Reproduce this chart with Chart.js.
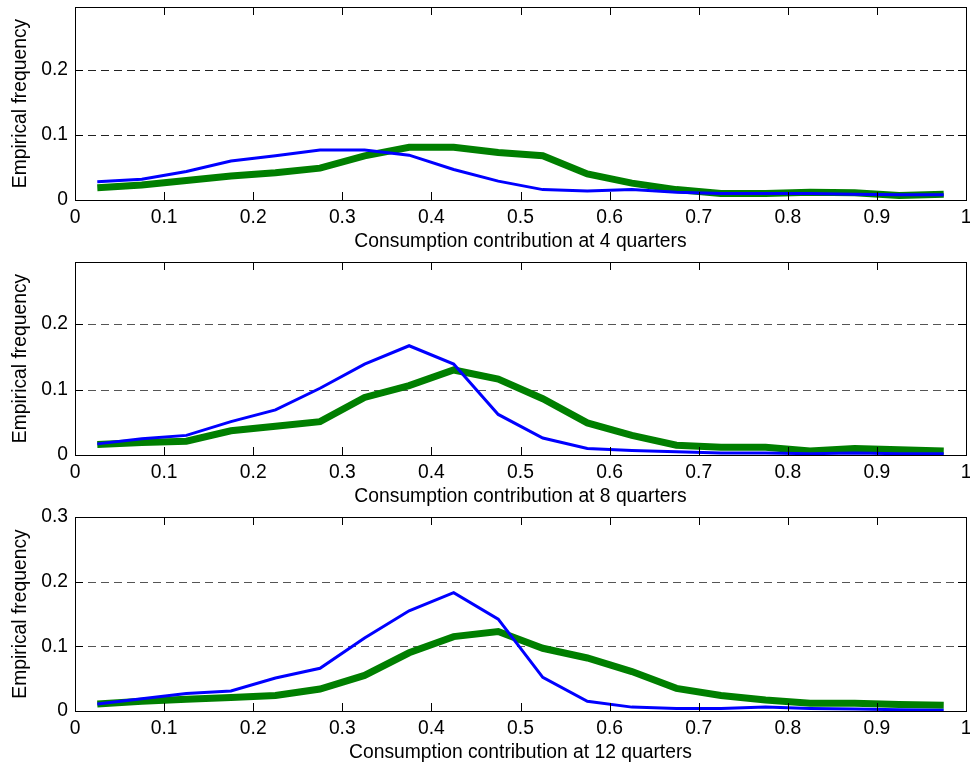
<!DOCTYPE html>
<html>
<head>
<meta charset="utf-8">
<script src="https://cdn.jsdelivr.net/npm/chart.js@4.4.1/dist/chart.umd.min.js"></script>
<style>
  html, body { margin: 0; padding: 0; background: #fff; }
  #wrap { position: relative; width: 970px; height: 769px; }
  canvas { position: absolute; left: 0; }
</style>
</head>
<body>
<div id="wrap">
  <canvas id="p4" width="970" height="256" style="top:0px"></canvas>
  <canvas id="p8" width="970" height="262" style="top:250px"></canvas>
  <canvas id="p12" width="970" height="269" style="top:500px"></canvas>
</div>
<script>
// bin centres of the histogram
const xCenters = [0.025, 0.075, 0.125, 0.175, 0.225, 0.275, 0.325, 0.375, 0.425, 0.475,
                  0.525, 0.575, 0.625, 0.675, 0.725, 0.775, 0.825, 0.875, 0.925, 0.975];

// 4 quarters
const blue4  = [0.028, 0.032, 0.044, 0.060, 0.068, 0.077, 0.077, 0.069, 0.047, 0.029,
                0.016, 0.014, 0.016, 0.012, 0.010, 0.010, 0.010, 0.009, 0.008, 0.008];
const green4 = [0.019, 0.023, 0.030, 0.037, 0.042, 0.049, 0.068, 0.081, 0.081, 0.073,
                0.068, 0.040, 0.026, 0.016, 0.010, 0.010, 0.012, 0.011, 0.007, 0.009];

// 8 quarters
const blue8  = [0.017, 0.025, 0.030, 0.051, 0.069, 0.102, 0.139, 0.167, 0.139, 0.062,
                0.026, 0.010, 0.007, 0.005, 0.003, 0.003, 0.002, 0.003, 0.002, 0.002];
const green8 = [0.016, 0.019, 0.021, 0.037, 0.044, 0.051, 0.088, 0.106, 0.130, 0.116,
                0.086, 0.049, 0.030, 0.015, 0.012, 0.012, 0.006, 0.010, 0.008, 0.006];

// 12 quarters
const blue12  = [0.011, 0.019, 0.027, 0.031, 0.051, 0.066, 0.113, 0.155, 0.183, 0.142,
                 0.052, 0.015, 0.006, 0.004, 0.004, 0.006, 0.004, 0.003, 0.002, 0.001];
const green12 = [0.011, 0.015, 0.018, 0.021, 0.024, 0.034, 0.055, 0.090, 0.115, 0.123,
                 0.097, 0.082, 0.061, 0.035, 0.024, 0.017, 0.012, 0.012, 0.010, 0.009];

const xTickValues = [0, 0.1, 0.2, 0.3, 0.4, 0.5, 0.6, 0.7, 0.8, 0.9, 1];
const xTickLabels = ['0', '0.1', '0.2', '0.3', '0.4', '0.5', '0.6', '0.7', '0.8', '0.9', '1'];
const yTicksShort = [0, 0.1, 0.2];
const yTicksFull = [0, 0.1, 0.2, 0.3];
const yLabels = ['0', '0.1', '0.2', '0.3'];

Chart.defaults.font.family = "'Liberation Sans', Arial, Helvetica, sans-serif";
Chart.defaults.font.size = 19.3;
Chart.defaults.color = '#000';

// matlab style frame: dashed y grid, full box and inward ticks
const matlabFrame = {
    id: 'matlabFrame',
    beforeDatasetsDraw(chart) {
        const { ctx, chartArea: a, scales } = chart;
        ctx.save();
        ctx.strokeStyle = chart.options.plugins.matlabFrame.gridColor;
        ctx.lineWidth = 1;
        ctx.setLineDash([8, 5]);
        scales.y.ticks.forEach(t => {
            if (t.value <= 0 || t.value >= scales.y.max - 1e-9) return;
            const y = Math.round(scales.y.getPixelForValue(t.value)) + 0.5;
            ctx.beginPath();
            ctx.moveTo(a.left, y);
            ctx.lineTo(a.right, y);
            ctx.stroke();
        });
        ctx.restore();
    },
    afterDatasetsDraw(chart) {
        const { ctx, chartArea: a, scales } = chart;
        const len = 8;
        ctx.save();
        ctx.strokeStyle = '#000';
        ctx.lineWidth = 1;
        ctx.beginPath();
        scales.x.ticks.forEach(t => {
            const x = Math.round(scales.x.getPixelForValue(t.value)) + 0.5;
            ctx.moveTo(x, a.bottom); ctx.lineTo(x, a.bottom - len);
            ctx.moveTo(x, a.top); ctx.lineTo(x, a.top + len);
        });
        scales.y.ticks.forEach(t => {
            const y = Math.round(scales.y.getPixelForValue(t.value)) + 0.5;
            ctx.moveTo(a.left, y); ctx.lineTo(a.left + len, y);
            ctx.moveTo(a.right, y); ctx.lineTo(a.right - len, y);
        });
        ctx.stroke();
        ctx.strokeRect(Math.round(a.left) + 0.5, Math.round(a.top) + 0.5,
                       Math.round(a.right - a.left), Math.round(a.bottom - a.top));
        ctx.restore();
    }
};

function makePanel(id, blue, green, yMax, yTicks, xTitle, plotTop, xAxisH, titlePad, gridColor) {
    new Chart(document.getElementById(id), {
        type: 'line',
        plugins: [matlabFrame],
        data: {
            datasets: [{
                data: xCenters.map((x, i) => ({ x: x, y: blue[i] })),
                borderColor: '#0000ff',
                borderWidth: 3,
                pointRadius: 0,
                tension: 0
            }, {
                data: xCenters.map((x, i) => ({ x: x, y: green[i] })),
                borderColor: '#007f00',
                borderWidth: 7,
                pointRadius: 0,
                tension: 0
            }]
        },
        options: {
            responsive: false,
            animation: false,
            layout: { padding: { top: plotTop, right: 4, left: 0, bottom: 0 } },
            plugins: {
                legend: { display: false },
                tooltip: { enabled: false },
                matlabFrame: { gridColor: gridColor }
            },
            scales: {
                x: {
                    type: 'linear',
                    min: 0,
                    max: 1,
                    afterBuildTicks: s => { s.ticks = xTickValues.map(v => ({ value: v })); },
                    // fixed axis height, and no extra room for the end labels
                    afterFit: s => { s.height = xAxisH; s.paddingLeft = 0; s.paddingRight = 0; },
                    grid: { display: false, drawTicks: false },
                    border: { display: false },
                    ticks: {
                        padding: 6,
                        maxRotation: 0,
                        autoSkip: false,
                        callback: (v, i) => xTickLabels[i]
                    },
                    title: { display: true, text: xTitle, padding: { top: 0, bottom: titlePad } }
                },
                y: {
                    min: 0,
                    max: yMax,
                    afterBuildTicks: s => { s.ticks = yTicks.map(v => ({ value: v })); },
                    afterFit: s => { s.width = 75; s.paddingTop = 0; s.paddingBottom = 0; },
                    grid: { display: false, drawTicks: false },
                    border: { display: false },
                    ticks: {
                        padding: 7,
                        autoSkip: false,
                        callback: (v, i) => yLabels[i]
                    },
                    title: { display: true, text: 'Empirical frequency', padding: { top: 9, bottom: 0 } }
                }
            }
        }
    });
}

makePanel('p4', blue4, green4, 0.297, yTicksShort, 'Consumption contribution at 4 quarters', 7, 56, 3, '#222');
makePanel('p8', blue8, green8, 0.295, yTicksShort, 'Consumption contribution at 8 quarters', 12, 57, 4, '#555');
makePanel('p12', blue12, green12, 0.3, yTicksFull, 'Consumption contribution at 12 quarters', 17, 58, 5, '#555');
</script>
</body>
</html>
